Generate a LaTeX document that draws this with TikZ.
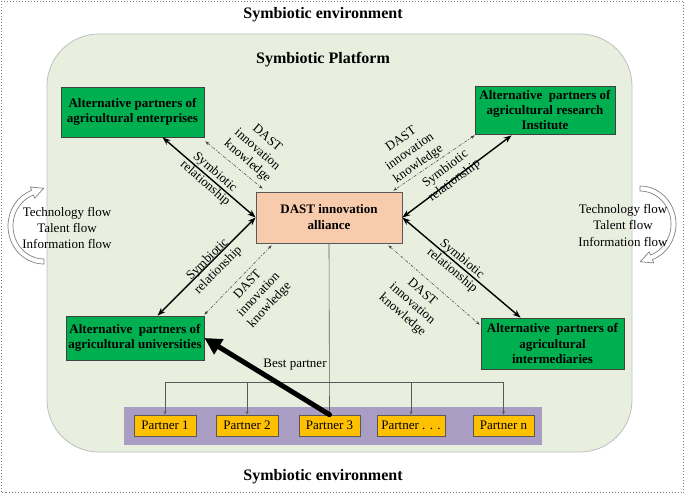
\documentclass[tikz,border=0pt]{standalone}
\usepackage{fontspec}
\setmainfont{Liberation Serif}
\usetikzlibrary{arrows.meta,calc}
\definecolor{platfill}{HTML}{E9EFDF}
\definecolor{platdraw}{HTML}{BFBFBF}
\definecolor{agrigreen}{HTML}{00B050}
\definecolor{boxborder}{HTML}{404040}
\definecolor{peach}{HTML}{F8CBAD}
\definecolor{bandpurple}{HTML}{A99DC3}
\definecolor{partnerfill}{HTML}{FFC000}
\definecolor{treegray}{HTML}{595959}
\tikzset{
  titletext/.style={font=\bfseries\fontsize{16}{19}\selectfont},
  greenbox/.style={draw=boxborder, fill=agrigreen, line width=0.8pt, inner sep=0pt, align=center,
    font=\bfseries\fontsize{13}{15.5}\selectfont},
  alliancebox/.style={draw=treegray, fill=peach, line width=0.8pt, inner sep=0pt, align=center,
    font=\bfseries\fontsize{13}{16}\selectfont},
  bandbox/.style={fill=bandpurple, draw=none, inner sep=0pt},
  partnerbox/.style={draw=treegray, fill=partnerfill, line width=0.7pt, inner sep=0pt,
    minimum height=21pt, font=\fontsize{13}{15}\selectfont},
  plainlabel/.style={align=center, inner sep=0pt, font=\fontsize{13}{15}\selectfont},
  symb/.style={line width=1.4pt, {Stealth[length=8pt,width=6pt]}-{Stealth[length=8pt,width=6pt]}},
  know/.style={line width=0.5pt, draw=black!75, dash pattern=on 3pt off 1.5pt on 0.8pt off 1.5pt,
    {Stealth[length=4pt,width=3pt]}-{Stealth[length=4pt,width=3pt]}},
  treeline/.style={line width=0.6pt, draw=treegray},
  treearrow/.style={line width=0.6pt, draw=treegray, -{Stealth[length=3.5pt,width=3pt]}},
  bestarrow/.style={line width=5pt, line cap=round, -{Triangle[length=17pt,width=17pt]}},
  flowarr/.style={draw=gray, fill=white, line width=0.7pt, line join=round},
  flowarrow/.pic={
    \draw[flowarr] (0,38) arc[start angle=90,end angle=250,x radius=36,y radius=38]
      -- (-13.7,-39) -- (-0.3,-37.7) -- (-9.3,-27.8) -- (-10.6,-31)
      arc[start angle=250,end angle=90,x radius=31,y radius=33] -- cycle;
  }
}
\begin{document}
\begin{tikzpicture}[x=1pt,y=-1pt]
\useasboundingbox (0,0) rectangle (685,494);
% outer frame
\draw[gray, dotted, line width=1pt] (1.5,1.5) rectangle (683.5,492.5);
% platform
\node[fill=platfill, draw=platdraw, line width=0.8pt, rounded corners=52pt,
  minimum width=585pt, minimum height=418pt, inner sep=0pt] (plat) at (339.5,243) {};
% titles
\node[titletext] (envtop) at (323,15) {Symbiotic environment};
\node[titletext] (envbot) at (323,477) {Symbiotic environment};
\node[titletext] (plattitle) at (323,60) {Symbiotic Platform};
% flow arrows
\pic at (44,226) {flowarrow};
\pic[rotate=180] at (640,224) {flowarrow};
\node[plainlabel, font=\fontsize{13}{16}\selectfont] (flowL) at (67,228) {Technology flow\\Talent flow\\Information flow};
\node[plainlabel, font=\fontsize{13}{16.5}\selectfont] (flowR) at (623,225) {Technology flow\\Talent flow\\Information flow};
% boxes
\node[greenbox, minimum width=143pt, minimum height=50pt] (ent) at (132.5,112) {Alternative partners of\\agricultural enterprises};
\node[greenbox, minimum width=140pt, minimum height=48pt, font=\bfseries\fontsize{13}{15}\selectfont] (res) at (545,110) {Alternative\ \ partners of\\agricultural research\\Institute};
\node[alliancebox, minimum width=146pt, minimum height=51pt] (all) at (329,217.5) {DAST innovation\\alliance};
\node[greenbox, minimum width=138pt, minimum height=44pt] (uni) at (135,338) {Alternative\ \ partners of\\agricultural universities};
\node[greenbox, minimum width=143pt, minimum height=51pt] (int) at (552.5,343.5) {Alternative\ \ partners of\\agricultural\\intermediaries};
% band and partners
\node[bandbox, minimum width=418pt, minimum height=38pt] (band) at (333,426) {};
\node[partnerbox, minimum width=62pt] (p1) at (165,425.5) {Partner 1};
\node[partnerbox, minimum width=62pt] (p2) at (247,425.5) {Partner 2};
\node[partnerbox, minimum width=61pt] (p3) at (329.5,425.5) {Partner 3};
\node[partnerbox, minimum width=68pt] (p4) at (411,425.5) {Partner . . .};
\node[partnerbox, minimum width=61pt] (pn) at (503.5,425.5) {Partner n};
% tree
\coordinate (hl) at (165,382);
\coordinate (hr) at (503.5,382);
\draw[treeline] (hl) -- (hr);
\draw[treeline] (all.south) -- (p3.north);
\draw[treearrow] (hl) -- (p1.north);
\draw[treearrow] (p2.north |- hl) -- (p2.north);
\draw[treearrow] (p4.north |- hl) -- (p4.north);
\draw[treearrow] (hr) -- (pn.north);
% symbiotic relationships
\draw[symb] ($(ent.south west)+(102,0)$) -- (all.west);
\draw[symb] ($(res.south west)+(37,1)$) -- (all.east);
\draw[symb] ($(uni.north west)+(92,0)$) -- (all.west);
\draw[symb] (all.east) -- ($(int.north west)+(40,0)$);
% knowledge
\draw[know] ($(ent.south east)+(1,4)$) -- ($(all.north west)+(7,-3)$);
\draw[know] ($(res.south west)+(0,1)$) -- ($(all.north east)+(-9,-1)$);
\draw[know] ($(uni.north east)+(0,-1)$) -- ($(all.south west)+(16,2)$);
\draw[know] ($(all.south east)+(-14,2)$) -- ($(int.north west)+(-1,7)$);
% labels
\node[plainlabel, rotate=-41] (sl1) at (210,178) {Symbiotic\\relationship};
\node[plainlabel, rotate=37] (sl2) at (450,175) {Symbiotic\\relationship};
\node[plainlabel, rotate=45] (sl3) at (213,265) {Symbiotic\\relationship};
\node[plainlabel, rotate=-40] (sl4) at (457,265) {Symbiotic\\relationship};
\node[plainlabel, rotate=-41] (kl1) at (257,150) {DAST\\innovation\\knowledge};
\node[plainlabel, rotate=35] (kl2) at (410,152) {DAST\\innovation\\knowledge};
\node[plainlabel, rotate=47] (kl3) at (259,295) {DAST\\innovation\\knowledge};
\node[plainlabel, rotate=-41] (kl4) at (412,304) {DAST\\innovation\\knowledge};
% best partner
\draw[bestarrow] (p3.north) -- (uni.east);
\node[plainlabel] (bp) at (295,365) {Best partner};
\end{tikzpicture}
\end{document}
